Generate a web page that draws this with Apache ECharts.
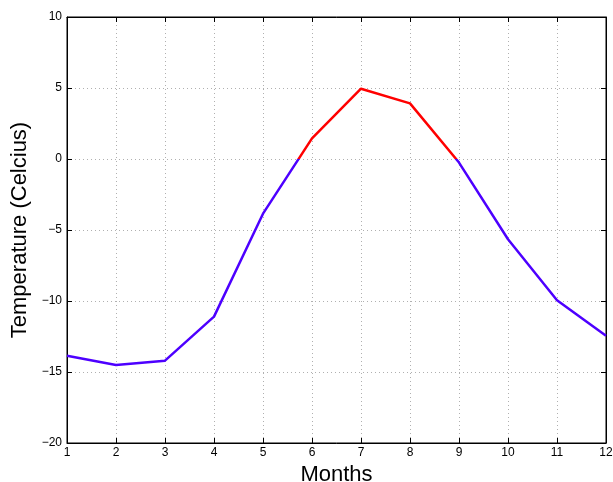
<!DOCTYPE html>
<html><head><meta charset="utf-8">
<script src="https://cdn.jsdelivr.net/npm/echarts@6/dist/echarts.min.js"></script>
<style>html,body{margin:0;padding:0;background:#fff}#c{width:613px;height:482px}</style>
</head><body><div id="c"></div>
<script>
var months = [1,2,3,4,5,6,7,8,9,10,11,12];
var temps = [-13.85,-14.5,-14.2,-11.1,-3.85,1.45,4.95,3.92,-0.25,-5.65,-9.95,-12.45];
var yTicks = [-20,-15,-10,-5,0,5,10];

var chart = echarts.init(document.getElementById('c'));
var fmtMinus = function(v){ return String(v).replace('-', '\u2212'); };
var font = 'Liberation Sans, Arial, Helvetica, sans-serif';
chart.setOption({
  animation:false,
  grid:{left:67,right:7,top:17,bottom:39,show:true,borderColor:'#000',borderWidth:1,
    containLabel:false,outerBoundsMode:'none'},
  visualMap:{show:false,type:'piecewise',dimension:1,seriesIndex:0,
    pieces:[{min:-30,max:0,color:'#4d00ff'},{min:0,max:30,color:'#ff0000'}]},
  xAxis:[{type:'value',min:1,max:12,interval:1,
    name:'Months',nameLocation:'middle',nameGap:18,
    nameTextStyle:{fontSize:22,color:'#000',fontFamily:font},
    axisLine:{onZero:false,lineStyle:{color:'#000'}},
    axisTick:{inside:true,length:5,lineStyle:{color:'#000'}},
    axisLabel:{color:'#000',fontSize:12,fontFamily:font,margin:4},
    splitLine:{show:true,lineStyle:{color:'#b0b0b0',type:[1,3]}}},
    {type:'value',position:'top',min:1,max:12,interval:1,
    axisLine:{show:true,onZero:false,lineStyle:{color:'#000'}},
    axisTick:{inside:true,length:5,lineStyle:{color:'#000'}},
    axisLabel:{show:false},splitLine:{show:false}}],
  yAxis:[{type:'value',min:yTicks[0],max:yTicks[yTicks.length-1],interval:5,
    name:'Temperature (Celcius)',nameLocation:'middle',nameGap:30,
    nameTextStyle:{fontSize:22,color:'#000',fontFamily:font},
    axisLine:{show:true,onZero:false,lineStyle:{color:'#000'}},
    axisTick:{show:true,inside:true,length:5,lineStyle:{color:'#000'}},
    axisLabel:{color:'#000',fontSize:12,fontFamily:font,margin:5,formatter:fmtMinus},
    splitLine:{show:true,lineStyle:{color:'#b0b0b0',type:[1,3]}}},
    {type:'value',position:'right',min:-20,max:10,interval:5,
    axisLine:{show:true,onZero:false,lineStyle:{color:'#000'}},
    axisTick:{show:true,inside:true,length:5,lineStyle:{color:'#000'}},
    axisLabel:{show:false},splitLine:{show:false}}],
  series:[{type:'line',xAxisIndex:0,yAxisIndex:0,
    data:months.map(function(m,i){return [m,temps[i]];}),
    showSymbol:false,lineStyle:{width:2.5}}]
});
</script></body></html>
